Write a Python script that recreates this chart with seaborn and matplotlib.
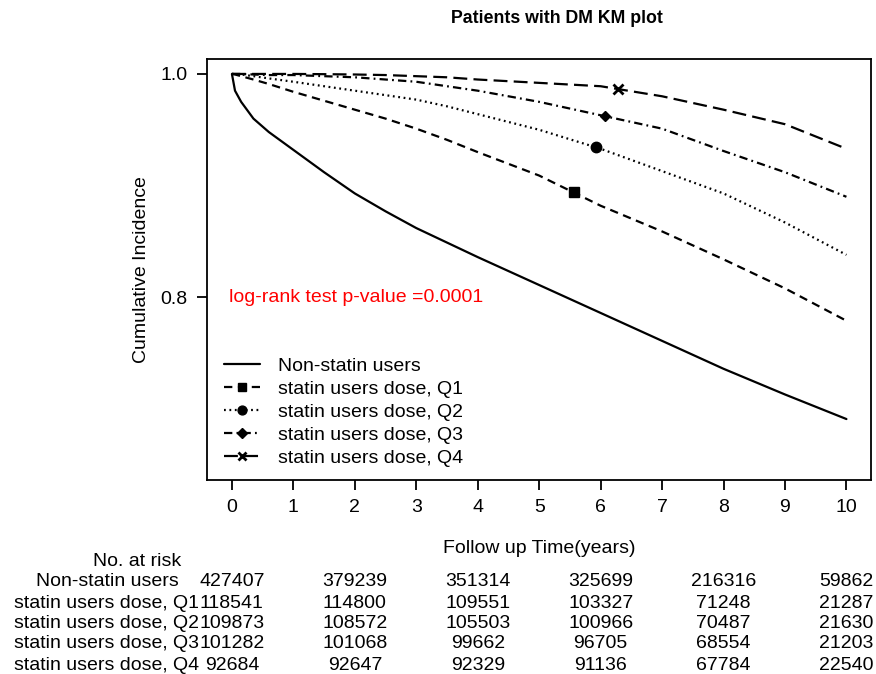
import numpy as np
import pandas as pd
import matplotlib
matplotlib.use("Agg")
import matplotlib.pyplot as plt
from matplotlib.lines import Line2D
import matplotlib.transforms as mtransforms
import seaborn as sns

# ---------------------------------------------------------------------------
# Data
# ---------------------------------------------------------------------------
time_years = [0, 0.05, 0.15, 0.35, 0.6, 1, 1.5, 2, 2.5, 3, 3.5, 4, 5, 6, 7, 8, 9, 10]

non_statin = [1.000, 0.985, 0.975, 0.960, 0.948, 0.932, 0.912, 0.893, 0.877,
              0.862, 0.849, 0.836, 0.811, 0.786, 0.761, 0.736, 0.713, 0.691]
statin_q1 = [1.000, 0.9995, 0.998, 0.995, 0.991, 0.984, 0.976, 0.968, 0.960,
             0.951, 0.941, 0.930, 0.909, 0.882, 0.859, 0.834, 0.808, 0.779]
statin_q2 = [1.000, 1.000, 0.9995, 0.998, 0.996, 0.993, 0.989, 0.985, 0.981,
             0.977, 0.971, 0.964, 0.950, 0.933, 0.913, 0.893, 0.867, 0.838]
statin_q3 = [1.000, 1.000, 1.000, 0.9995, 0.999, 0.999, 0.998, 0.997, 0.995,
             0.993, 0.989, 0.985, 0.975, 0.963, 0.951, 0.931, 0.912, 0.890]
statin_q4 = [1.000, 1.000, 1.000, 1.000, 1.000, 1.000, 0.9998, 0.9995, 0.999,
             0.998, 0.997, 0.995, 0.992, 0.989, 0.980, 0.968, 0.955, 0.933]

group_labels = ["Non-statin users", "statin users dose, Q1", "statin users dose, Q2",
                "statin users dose, Q3", "statin users dose, Q4"]
# where each group's mark sits on its curve
mark_times = [None, 5.56, 5.92, 6.07, 6.29]

risk_times = [0, 2, 4, 6, 8, 10]
risk_non_statin = [427407, 379239, 351314, 325699, 216316, 59862]
risk_q1 = [118541, 114800, 109551, 103327, 71248, 21287]
risk_q2 = [109873, 108572, 105503, 100966, 70487, 21630]
risk_q3 = [101282, 101068, 99662, 96705, 68554, 21203]
risk_q4 = [92684, 92647, 92329, 91136, 67784, 22540]

# ---------------------------------------------------------------------------
# Styling
# ---------------------------------------------------------------------------
sns.set_style("ticks")
plt.rcParams["font.family"] = ["Liberation Sans", "DejaVu Sans"]
plt.rcParams["lines.scale_dashes"] = False
for key in ["text.color", "axes.labelcolor", "xtick.color", "ytick.color"]:
    plt.rcParams[key] = "black"

FS = 14
linestyles = ["-", (0, (6, 4)), (0, (1.3, 2.6)), (0, (6, 3, 1.3, 3)), (0, (10, 4.5))]
markers = [None, "s", "o", "D", "x"]
marker_sizes = [0, 6.5, 7.5, 5.5, 7.5]

curves = [non_statin, statin_q1, statin_q2, statin_q3, statin_q4]
risk_rows = [risk_non_statin, risk_q1, risk_q2, risk_q3, risk_q4]

fig = plt.figure(figsize=(8.76, 6.74), dpi=100)
ax = fig.add_axes([0.236, 0.2878, 0.7583, 0.6247])

for label, vals, ls, mk, ms, mt in zip(group_labels, curves, linestyles,
                                        markers, marker_sizes, mark_times):
    df = pd.DataFrame({"time": time_years, "value": vals})
    sns.lineplot(data=df, x="time", y="value", color="black", linewidth=1.6,
                 linestyle=ls, ax=ax, legend=False)
    if mk is not None:
        my = np.interp(mt, time_years, vals)
        ax.plot([mt], [my], marker=mk, color="black", markersize=ms,
                markeredgewidth=2 if mk == "x" else 1, linestyle="none")

ax.set_xlim(-0.41, 10.4)
ax.set_ylim(0.6364, 1.0134)
ax.set_xticks(range(0, 11))
ax.set_yticks([0.8, 1.0])
ax.set_yticklabels(["0.8", "1.0"])
for s in ax.spines.values():
    s.set_linewidth(1.3)
    s.set_color("black")
ax.tick_params(direction="out", length=7, width=1.3, labelsize=FS, pad=7,
               colors="black")

ax.set_title("Patients with DM KM plot", fontsize=12.8, fontweight="bold",
             pad=26, x=0.527)
ax.set_ylabel("Cumulative Incidence", fontsize=FS)
ax.yaxis.set_label_coords(-0.085, 0.5)
ax.set_xlabel("Follow up Time(years)", fontsize=FS)
ax.xaxis.set_label_coords(0.5, -0.143)

ax.text(-0.05, 0.8, "log-rank test p-value =0.0001", color="red",
        fontsize=FS, ha="left", va="center")

handles = [Line2D([0], [0], color="black", linewidth=1.6, linestyle=ls,
                  marker=mk, markersize=ms * 0.85,
                  markeredgewidth=2 if mk == "x" else 1)
           for ls, mk, ms in zip(linestyles, markers, marker_sizes)]
ax.legend(handles, group_labels, loc="lower left", bbox_to_anchor=(0.026, 0.032),
          frameon=False, fontsize=FS, handlelength=1.85, handletextpad=0.95,
          labelspacing=0.27, borderpad=0, borderaxespad=0, numpoints=1)

# Number-at-risk table
def fig_y(px):
    return 1 - px / 674

trans = mtransforms.blended_transform_factory(ax.transData, fig.transFigure)
fig.text(137 / 876, fig_y(562), "No. at risk", fontsize=FS, ha="center", va="center")
row_px = [582, 603, 623, 643, 665]
for label, counts, py in zip(group_labels, risk_rows, row_px):
    fig.text(107 / 876, fig_y(py), label, fontsize=FS, ha="center", va="center")
    for t, n in zip(risk_times, counts):
        ax.text(t, fig_y(py), str(n), transform=trans, fontsize=FS,
                ha="center", va="center", clip_on=False)

fig.savefig("out.png", dpi=100)
